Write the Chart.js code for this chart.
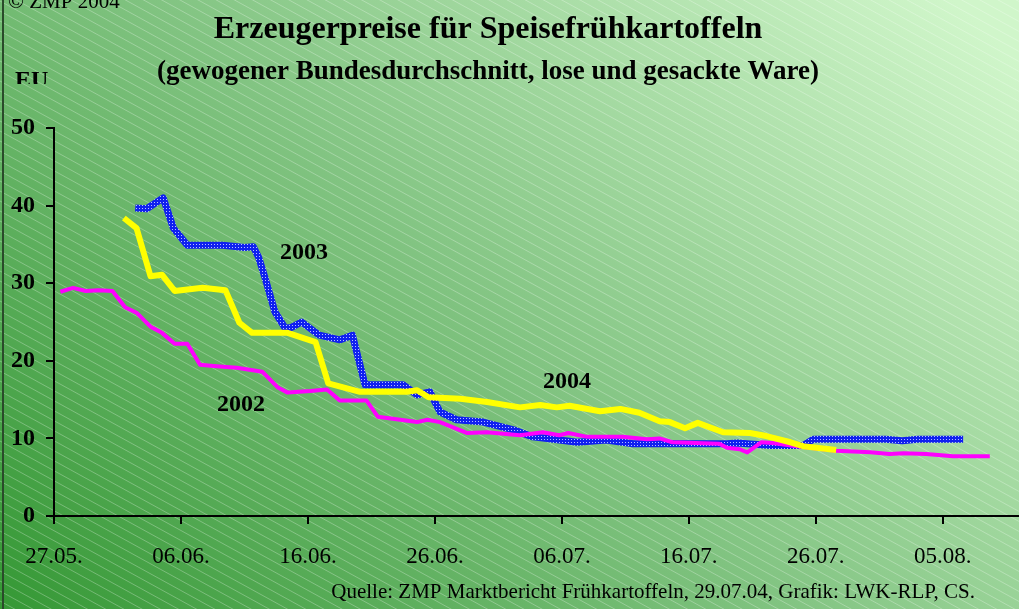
<!DOCTYPE html>
<html>
<head>
<meta charset="utf-8">
<script src="https://cdn.jsdelivr.net/npm/chart.js@4/dist/chart.umd.min.js"></script>
<style>
  html, body { margin: 0; padding: 0; background: #fff; }
  canvas { display: block; }
</style>
</head>
<body>
<canvas id="chart" width="1019" height="609"></canvas>
<script>
// Tage seit 27.05. und Preise (EUR/dt)
const tickDays = [0, 10, 20, 30, 40, 50, 60, 70];
const tickLabels = ['27.05.', '06.06.', '16.06.', '26.06.', '06.07.', '16.07.', '26.07.', '05.08.'];

const days2002 = [0.5, 1.5, 2.5, 3.5, 4.6, 5.6, 6.5, 7.6, 8.5, 9.5, 10.5, 11.5, 12.8, 14.4, 16.4, 17.6, 18.4, 20.2, 21.5, 22.5, 24.6, 25.5, 28.6, 29.4, 30.4, 32.5, 34.1, 36.7, 38.5, 39.8, 40.5, 42.0, 44.8, 46.7, 47.7, 48.7, 52.4, 53.0, 54.0, 54.6, 55.7, 56.6, 58.5, 61.6, 64.3, 65.8, 66.9, 68.7, 70.8, 73.7];
const preise2002 = [28.9, 29.4, 29.0, 29.1, 29.0, 26.9, 26.2, 24.4, 23.6, 22.2, 22.2, 19.5, 19.3, 19.1, 18.6, 16.6, 15.9, 16.1, 16.3, 14.9, 14.9, 12.8, 12.1, 12.4, 12.1, 10.7, 10.8, 10.4, 10.8, 10.4, 10.7, 10.2, 10.2, 9.9, 10.0, 9.5, 9.3, 8.8, 8.6, 8.2, 9.5, 9.4, 9.0, 8.4, 8.2, 8.0, 8.1, 8.0, 7.7, 7.7];

const days2003 = [6.4, 7.3, 8.6, 9.4, 10.5, 13.3, 15.0, 15.7, 16.1, 16.6, 17.4, 18.2, 18.7, 19.5, 20.9, 22.5, 23.5, 24.5, 27.5, 28.6, 29.6, 30.4, 31.7, 33.8, 36.2, 37.7, 39.8, 41.2, 43.5, 45.6, 53.0, 53.8, 56.4, 59.0, 59.8, 65.5, 66.8, 68.0, 71.6];
const preise2003 = [39.7, 39.6, 41.0, 37.1, 34.9, 34.9, 34.6, 34.7, 33.4, 30.8, 26.3, 24.2, 24.3, 25.0, 23.3, 22.7, 23.3, 16.9, 16.9, 15.6, 16.0, 13.4, 12.4, 12.1, 11.1, 10.2, 9.8, 9.5, 9.8, 9.3, 9.3, 9.4, 9.1, 9.1, 9.9, 9.9, 9.7, 9.9, 9.9];

const days2004 = [5.5, 6.5, 7.6, 8.5, 9.5, 11.7, 13.5, 14.6, 15.6, 18.4, 20.6, 21.6, 24.1, 27.8, 28.6, 29.5, 32.0, 34.1, 36.7, 38.3, 39.6, 40.6, 43.0, 44.6, 46.1, 47.7, 48.5, 49.7, 50.7, 52.7, 54.8, 56.1, 58.0, 59.0, 61.6];
const preise2004 = [38.4, 37.1, 30.9, 31.1, 29.0, 29.4, 29.1, 24.9, 23.6, 23.6, 22.4, 17.1, 16.0, 16.0, 16.2, 15.3, 15.1, 14.7, 14.0, 14.3, 14.0, 14.2, 13.5, 13.8, 13.3, 12.2, 12.1, 11.3, 12.0, 10.8, 10.7, 10.3, 9.5, 9.0, 8.5];

const toPoints = (xs, ys) => xs.map((x, i) => ({ x: x, y: ys[i] }));

// gepunktetes Blau fuer 2003
function blauMuster() {
  const c = document.createElement('canvas');
  c.width = 3; c.height = 3;
  const g = c.getContext('2d');
  g.fillStyle = '#1020f0';
  g.fillRect(0, 0, 3, 3);
  g.fillStyle = '#b8c0ff';
  g.fillRect(1, 1, 1, 1);
  return g.createPattern(c, 'repeat');
}

const SERIF = '"Liberation Serif", "Times New Roman", serif';

// Hintergrund mit Verlauf und Streifen
const hintergrund = {
  id: 'hintergrund',
  beforeDraw(chart) {
    const ctx = chart.ctx;
    const w = chart.width, h = chart.height;
    ctx.save();
    const grad = ctx.createLinearGradient(0, h, w * 0.75, -h * 0.3);
    grad.addColorStop(0, '#359835');
    grad.addColorStop(0.5, '#82c482');
    grad.addColorStop(1, '#d0f6ca');
    ctx.fillStyle = grad;
    ctx.fillRect(0, 0, w, h);
    ctx.strokeStyle = 'rgba(255,255,255,0.28)';
    ctx.lineWidth = 1;
    const slope = 0.55;
    for (let b = -w; b < h + 20; b += 10) {
      ctx.beginPath();
      ctx.moveTo(0, b);
      ctx.lineTo(w, b + w * slope);
      ctx.stroke();
    }
    ctx.strokeStyle = '#2a4a2a';
    ctx.lineWidth = 2;
    ctx.beginPath();
    ctx.moveTo(3, 0);
    ctx.lineTo(3, h);
    ctx.stroke();
    ctx.restore();
  }
};

// Titel, Beschriftungen, Quelle
const texte = {
  id: 'texte',
  afterDraw(chart) {
    const ctx = chart.ctx;
    ctx.save();
    ctx.fillStyle = '#000';
    ctx.textBaseline = 'alphabetic';

    ctx.textAlign = 'left';
    ctx.font = '21px ' + SERIF;
    ctx.fillText('\u00a9 ZMP 2004', 8, 8);

    // "EU" wird unten vom Diagramm abgeschnitten
    ctx.save();
    ctx.beginPath();
    ctx.rect(0, 60, 80, 24);
    ctx.clip();
    ctx.font = 'bold 24px ' + SERIF;
    ctx.fillText('EU', 15, 87);
    ctx.restore();

    ctx.textAlign = 'center';
    ctx.font = 'bold 32px ' + SERIF;
    ctx.fillText('Erzeugerpreise f\u00fcr Speisefr\u00fchkartoffeln', 488, 38);
    ctx.font = 'bold 27px ' + SERIF;
    ctx.fillText('(gewogener Bundesdurchschnitt, lose und gesackte Ware)', 488, 79);

    ctx.font = 'bold 24px ' + SERIF;
    ctx.textBaseline = 'middle';
    ctx.fillText('2003', 304, 253);
    ctx.fillText('2004', 567, 382);
    ctx.fillText('2002', 241, 405);

    ctx.textBaseline = 'alphabetic';
    ctx.textAlign = 'right';
    ctx.font = '21px ' + SERIF;
    ctx.fillText('Quelle: ZMP Marktbericht Fr\u00fchkartoffeln, 29.07.04, Grafik: LWK-RLP, CS.', 975, 598);
    ctx.restore();
  }
};

new Chart(document.getElementById('chart'), {
  type: 'line',
  data: {
    datasets: [
      { label: '2004', data: toPoints(days2004, preise2004), borderColor: '#ffff00', borderWidth: 6 },
      { label: '2002', data: toPoints(days2002, preise2002), borderColor: '#ff00ff', borderWidth: 4 },
      { label: '2003', data: toPoints(days2003, preise2003), borderColor: blauMuster(), borderWidth: 7 }
    ]
  },
  options: {
    responsive: false,
    animation: false,
    elements: {
      point: { radius: 0, hoverRadius: 0 },
      line: { tension: 0, borderJoinStyle: 'round', borderCapStyle: 'butt', fill: false }
    },
    layout: { padding: { top: 128, left: 0, right: 0, bottom: 33 } },
    plugins: { legend: { display: false }, tooltip: { enabled: false }, title: { display: false } },
    scales: {
      x: {
        type: 'linear',
        min: 0,
        max: 76,
        afterBuildTicks(scale) { scale.ticks = tickDays.map(v => ({ value: v })); },
        afterFit(scale) { scale.height = 60; },
        ticks: {
          callback: (v) => tickLabels[tickDays.indexOf(v)] || '',
          color: '#000',
          font: { family: SERIF, size: 23 },
          padding: 19,
          maxRotation: 0,
          autoSkip: false
        },
        grid: { drawOnChartArea: false, drawTicks: true, tickLength: 8, color: '#000', lineWidth: 2 },
        border: { display: true, color: '#000', width: 2 }
      },
      y: {
        min: 0,
        max: 50,
        afterFit(scale) { scale.width = 54; },
        ticks: {
          stepSize: 10,
          color: '#000',
          font: { family: SERIF, size: 24, weight: 'bold' },
          padding: 11
        },
        grid: { drawOnChartArea: false, drawTicks: true, tickLength: 8, color: '#000', lineWidth: 2 },
        border: { display: true, color: '#000', width: 2 }
      }
    }
  },
  plugins: [hintergrund, texte]
});
</script>
</body>
</html>
